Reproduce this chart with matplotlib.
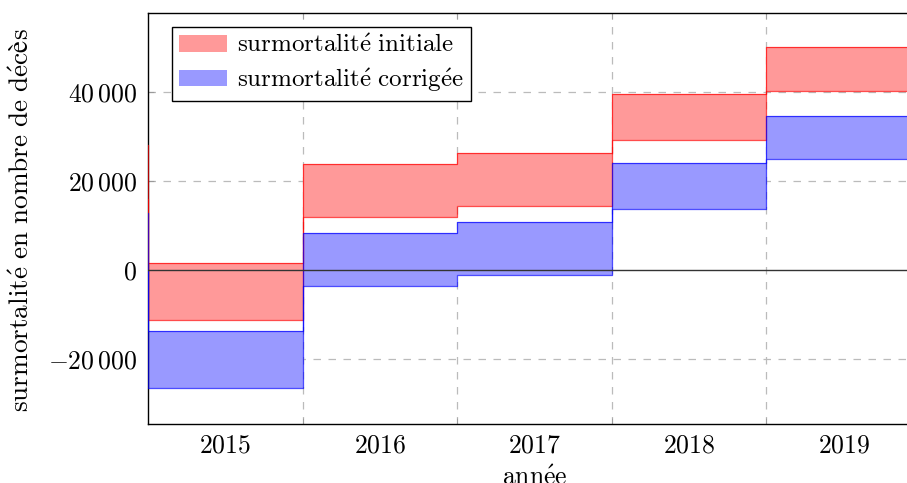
import matplotlib
matplotlib.use("Agg")
import matplotlib.pyplot as plt
from matplotlib.patches import Patch
import numpy as np

plt.rcParams['font.family'] = ['cmr10', 'DejaVu Serif']
plt.rcParams['mathtext.fontset'] = 'cm'
plt.rcParams['axes.unicode_minus'] = False

# years (2014 is only partially visible at the left border)
years = [2014, 2015, 2016, 2017, 2018, 2019]
initiale_haut = [28200, 1600, 23800, 26300, 39500, 50200]
initiale_bas = [16000, -11200, 11900, 14400, 29200, 40200]
corrigee_haut = [12800, -13700, 8300, 10800, 24000, 34700]
corrigee_bas = [0, -26500, -3600, -1100, 13700, 24900]
xtick_labels = ['2015', '2016', '2017', '2018', '2019']
ytick_values = [-20000, 0, 20000, 40000]
label_initiale = 'surmortalité initiale'
label_corrigee = 'surmortalité corrigée'
ylabel_text = 'surmortalité en nombre de décès'
xlabel_text = 'année'


def tex(s):
    s = s.replace('é', r'\acute{e}').replace(' ', r'\ ')
    return r'$\mathrm{' + s + '}$'


fs = 18.5
fig = plt.figure(figsize=(9.07, 4.83), dpi=100)
ax = fig.add_axes([148/907, 59/483, (921-148)/907, 411/483])

x = np.array(years, dtype=float)


def stepped(xv, yv):
    xs, ys = [], []
    for xx, yy in zip(xv, yv):
        xs += [xx - 0.5, xx + 0.5]
        ys += [yy, yy]
    return np.array(xs), np.array(ys)


for hi, lo, col, fc in [(initiale_haut, initiale_bas, 'red', '#ff9999'),
                        (corrigee_haut, corrigee_bas, 'blue', '#9999ff')]:
    xs, yh = stepped(x, hi)
    _, yl = stepped(x, lo)
    ax.fill_between(xs, yl, yh, facecolor=fc, edgecolor='none', zorder=2)
    ax.plot(xs, yh, color=col, lw=0.9, alpha=0.7, zorder=3)
    ax.plot(xs, yl, color=col, lw=0.9, alpha=0.7, zorder=3)

ax.axhline(0, color='#333333', lw=1.0, zorder=4)

ax.set_xlim(2014.5, 2019.5)
ax.set_ylim(-34600, 57750)

ax.set_xticks(years[1:])
ax.set_xticklabels(['$' + t + '$' for t in xtick_labels], fontsize=fs)
ax.tick_params(axis='x', length=0, pad=7)
ax.set_xticks([2015.5, 2016.5, 2017.5, 2018.5], minor=True)
ax.tick_params(axis='x', which='minor', length=4, color='#999999', top=True, direction='in')

ax.set_yticks(ytick_values)


def fmt(v):
    s = f"{abs(v):,}".replace(',', r'\,')
    return ('$-' if v < 0 else '$') + s + '$'


ax.set_yticklabels([fmt(v) for v in ytick_values], fontsize=fs)
ax.tick_params(axis='y', length=4, direction='in', color='#999999', pad=8)

for gx in [2015.5, 2016.5, 2017.5, 2018.5]:
    ax.axvline(gx, color='#bbbbbb', lw=0.9, ls=(0, (6, 6)), zorder=1)
for gy in [-20000, 20000, 40000]:
    ax.axhline(gy, color='#bbbbbb', lw=0.9, ls=(0, (6, 6)), zorder=1)

for s in ax.spines.values():
    s.set_linewidth(1.0)

ax.set_ylabel(tex(ylabel_text), fontsize=19.6, labelpad=12)
ax.yaxis.set_label_coords(-0.148, 0.497)
ax.set_xlabel(tex(xlabel_text), fontsize=fs, labelpad=6)

handles = [Patch(facecolor='#ff9999', edgecolor='none', label=tex(label_initiale)),
           Patch(facecolor='#9999ff', edgecolor='none', label=tex(label_corrigee))]
leg = ax.legend(handles=handles, loc='upper left', bbox_to_anchor=(0.031, 0.966),
                fontsize=18, frameon=True, fancybox=False, edgecolor='black',
                framealpha=1, borderpad=0.3, handlelength=1.9, handleheight=0.65,
                handletextpad=0.4, labelspacing=0.35, borderaxespad=0)
leg.get_frame().set_linewidth(1.0)

fig.savefig('out.png', dpi=100)
